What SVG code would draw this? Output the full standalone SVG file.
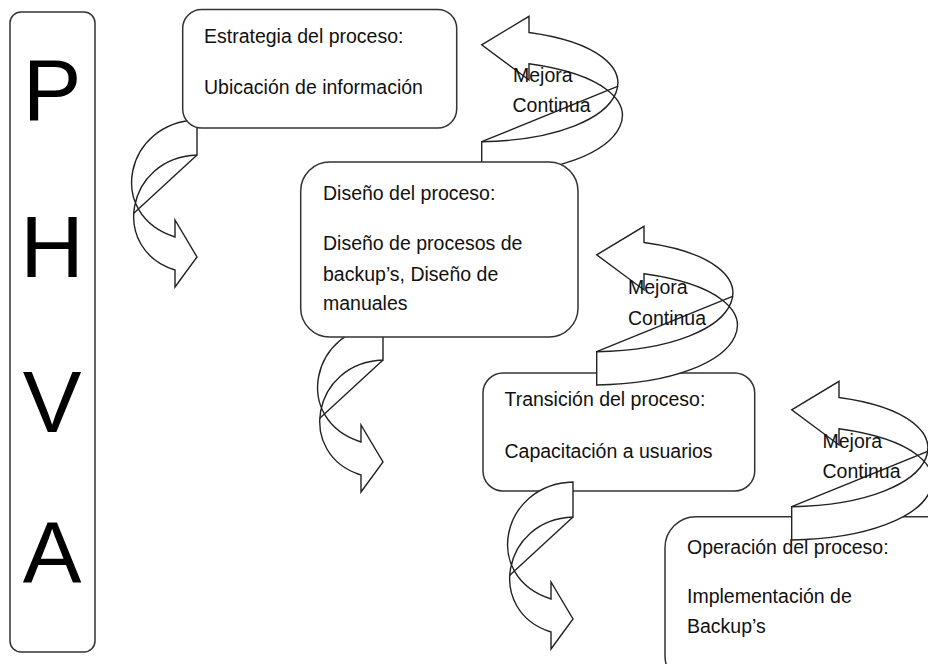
<svg xmlns="http://www.w3.org/2000/svg" width="928" height="664" viewBox="0 0 928 664">
<style>
.box{fill:#fff;stroke:#333;stroke-width:1.5}
.arr{fill:#fff;stroke:#222;stroke-width:1.4;stroke-linejoin:miter}
.ln{fill:none;stroke:#222;stroke-width:1.4}
.t{font-family:"Liberation Sans",Arial,sans-serif;font-size:19.5px;fill:#111}
.big{font-family:"Liberation Sans",Arial,sans-serif;font-size:88px;fill:#000;text-anchor:middle}
</style>
<defs>
<g id="down">
<path class="arr" d="M0,-35 C-72,-33 -92,60 -22,82 L-22,65 L0,102 L-22,132 L-22,115 C-87,95 -72,3 0,0 Z"/>
<path class="ln" d="M0,0 L-63.5,58.5"/>
</g>
<g id="up">
<path class="arr" d="M0,33.25 C154.8,31.35 197.8,-57 47.3,-77.9 L47.3,-61.75 L0,-96.9 L47.3,-125.4 L47.3,-109.25 C187,-90.25 154.8,-2.85 0,0 Z"/>
<path class="ln" d="M0,0 L136.5,-55.6"/>
</g>
</defs>

<g id="phva">
<rect class="box" x="10" y="12" width="85" height="640" rx="11"/>
<text class="big" x="52" y="120">P</text>
<text class="big" x="52" y="277">H</text>
<text class="big" x="52" y="432">V</text>
<text class="big" x="52" y="583">A</text>
</g>

<g id="connectors">
<use href="#down" transform="translate(197,155)"/>
<use href="#up" transform="translate(481.7,141.7)"/>
<use href="#down" transform="translate(383,360)"/>
</g>

<g id="n1">
<rect class="box" x="182.7" y="9.5" width="274" height="118.5" rx="19"/>
<text class="t" x="204" y="43">Estrategia del proceso:</text>
<text class="t" x="204" y="94">Ubicación de información</text>
</g>

<g id="n2">
<rect class="box" x="300.7" y="162" width="277.3" height="175" rx="29"/>
<text class="t" x="323" y="200">Diseño del proceso:</text>
<text class="t" x="323" y="250">Diseño de procesos de</text>
<text class="t" x="323" y="280.5">backup’s, Diseño de</text>
<text class="t" x="323" y="310">manuales</text>
</g>

<g id="n3">
<rect class="box" x="483" y="373" width="271.7" height="118" rx="20"/>
<text class="t" x="504.5" y="406.3">Transición del proceso:</text>
<text class="t" x="504.5" y="458">Capacitación a usuarios</text>
</g>

<g id="connectors2">
<use href="#up" transform="translate(596.7,351.7)"/>
<use href="#down" transform="translate(573,517)"/>
</g>

<g id="n4">
<rect class="box" x="665" y="516.7" width="300" height="170" rx="31"/>
<text class="t" x="687" y="554">Operación del proceso:</text>
<text class="t" x="687" y="603">Implementación de</text>
<text class="t" x="687" y="633">Backup’s</text>
</g>

<g id="connectors3">
<use href="#up" transform="translate(791.7,506.7)"/>
</g>

<g id="labels">
<text class="t" x="513" y="82">Mejora</text>
<text class="t" x="512.5" y="111.5">Continua</text>
<text class="t" x="628" y="294">Mejora</text>
<text class="t" x="628" y="325">Continua</text>
<text class="t" x="822.5" y="448">Mejora</text>
<text class="t" x="822.5" y="478">Continua</text>
</g>
</svg>
